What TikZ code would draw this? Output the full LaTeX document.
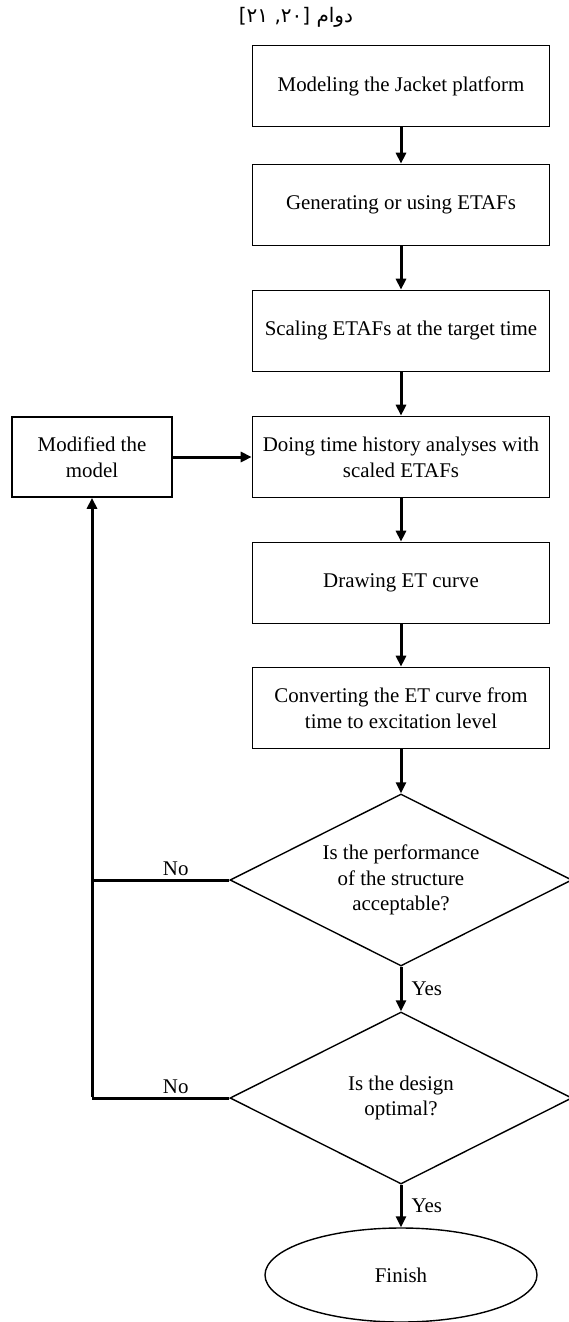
\documentclass[tikz,border=0pt]{standalone}
\usepackage{fontspec}
\setmainfont{Liberation Serif}
\newfontfamily\arabicfont[Script=Arabic]{DejaVu Sans}
\TeXXeTstate=1
\usetikzlibrary{arrows.meta,shapes.geometric}
\tikzset{
  bx/.style={draw, line width=1.6pt, align=center, minimum width=297pt, minimum height=81pt, inner sep=2pt},
  sidebx/.style={bx, minimum width=160pt, minimum height=80pt},
  dec/.style={diamond, draw, line width=1.4pt, align=center, aspect=2, minimum width=342pt, minimum height=172pt, inner sep=0pt},
  fin/.style={ellipse, draw, line width=1.4pt, minimum width=272pt, minimum height=94pt},
  arr/.style={-{Triangle[length=11pt, width=10pt]}, line width=3pt},
  ret/.style={line width=3pt},
  lbl/.style={inner sep=3pt},
}

\begin{document}
\begin{tikzpicture}[x=1pt, y=-1pt, font=\fontsize{20.9pt}{25.7pt}\selectfont]
  \path[use as bounding box, fill=white] (0,0) rectangle (569,1322);
  \node[font=\arabicfont\fontsize{20pt}{24pt}\selectfont] (ttl) at (296,17) {\beginR دوام [۲۰, ۲۱]\endR};
  \node[bx] (model) at (401,86) {Modeling the Jacket platform};
  \node[bx] (gen) at (401,205) {Generating or using ETAFs};
  \node[bx] (scl) at (401,331) {Scaling ETAFs at the target time};
  \node[bx] (hist) at (401,457) {Doing time history analyses with\\scaled ETAFs};
  \node[sidebx] (modif) at (92,457) {Modified the\\model};
  \node[bx] (curve) at (401,583) {Drawing ET curve};
  \node[bx] (conv) at (401,708) {Converting the ET curve from\\time to excitation level};
  \node[dec] (perf) at (401,880) {Is the performance\\of the structure\\acceptable?};
  \node[dec] (opt) at (401,1098) {Is the design\\optimal?};
  \node[fin] (finish) at (401,1275) {Finish};
  \draw[arr] (model) -- (gen);
  \draw[arr] (gen) -- (scl);
  \draw[arr] (scl) -- (hist);
  \draw[arr] (hist) -- (curve);
  \draw[arr] (curve) -- (conv);
  \draw[arr] (conv) -- (perf);
  \draw[arr] (perf) -- node[right, lbl, inner sep=9pt] {Yes} (opt);
  \draw[arr] (opt) -- node[right, lbl, inner sep=9pt] {Yes} (finish);
  \draw[arr] (modif) -- (hist);
  \draw[ret] (perf.west) -- node[above, lbl, pos=0.39] {No} (perf.west -| modif.south);
  \draw[ret] (opt.west) -- node[above, lbl, pos=0.39] {No} (opt.west -| modif.south);
  \draw[arr] ([yshift=1.5pt]opt.west -| modif.south) -- (modif.south);
\end{tikzpicture}
\end{document}
